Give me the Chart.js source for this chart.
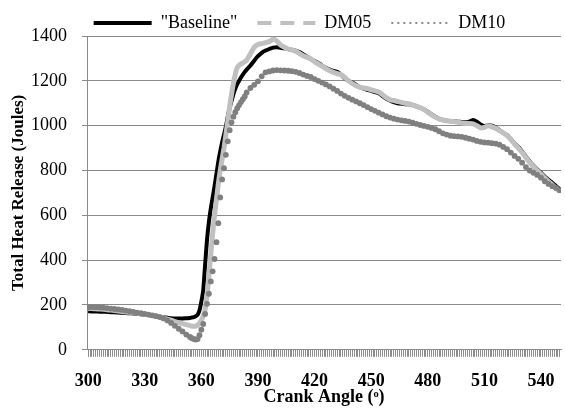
<!DOCTYPE html>
<html>
<head>
<meta charset="utf-8">
<script src="https://cdn.jsdelivr.net/npm/chart.js@4/dist/chart.umd.min.js"></script>
<style>
  body { margin: 0; background: #fff; }
  #wrap { width: 565px; height: 408px; }
</style>
</head>
<body>
<div id="wrap"><canvas id="heatChart"></canvas></div>
<script>
// Crank angle (degrees) - denser sampling through the ignition rise
const angles = [
  300, 302, 304, 306, 308, 310, 312, 314, 316, 318, 320, 322, 324, 326, 328, 330, 332, 334, 336, 338, 340, 342, 344, 346, 348, 350, 352,
  354, 355, 356, 357, 358, 359, 360, 361, 362, 363, 364, 365, 366, 367, 368, 369, 370, 371, 372, 373, 374, 375, 376, 377, 378, 379, 380, 381, 382, 383,
  384, 386, 388, 390, 392, 394, 396, 398, 400, 402, 404, 406, 408, 410, 412, 414, 416, 418, 420, 422, 424, 426, 428, 430, 432, 434, 436, 438, 440,
  442, 444, 446, 448, 450, 452, 454, 456, 458, 460, 462, 464, 466, 468, 470, 472, 474, 476, 478, 480, 482, 484, 486, 488, 490, 492, 494, 496, 498,
  500, 502, 504, 506, 508, 510, 512, 514, 516, 518, 520, 522, 524, 526, 528, 530, 532, 534, 536, 538, 540, 542, 544, 546, 548, 550
];

const baseline = [
  172, 171, 171, 170, 170, 169, 168, 167, 166, 165, 164, 163, 162, 160, 159, 157, 155, 153, 150, 147, 145, 143, 141, 140, 140, 140, 141,
  142, 144, 146, 150, 156, 175, 215, 265, 380, 490, 570, 630, 680, 730, 785, 840, 885, 925, 960, 995, 1040, 1080, 1110, 1140, 1165, 1185, 1200, 1215, 1228, 1240,
  1250, 1268, 1290, 1310, 1325, 1335, 1342, 1348, 1350, 1348, 1345, 1342, 1338, 1335, 1328, 1318, 1308, 1298, 1288, 1280, 1268, 1258, 1250, 1244, 1240, 1228, 1210, 1200, 1192,
  1182, 1172, 1165, 1160, 1155, 1150, 1145, 1132, 1120, 1112, 1105, 1100, 1098, 1096, 1095, 1092, 1086, 1080, 1072, 1062, 1050, 1040, 1030, 1025, 1022, 1020, 1019, 1018, 1016,
  1015, 1018, 1025, 1018, 1005, 998, 1002, 1000, 992, 980, 968, 958, 940, 920, 905, 885, 862, 840, 822, 805, 790, 772, 758, 745, 730, 715
];

const dm05 = [
  185, 184, 183, 182, 181, 179, 177, 175, 173, 171, 169, 167, 165, 163, 161, 159, 156, 153, 150, 146, 142, 137, 132, 126, 121, 117, 112,
  108, 106, 105, 106, 110, 118, 132, 150, 180, 240, 330, 425, 520, 600, 670, 740, 800, 850, 900, 960, 1020, 1085, 1140, 1190, 1230, 1258, 1270, 1275, 1280, 1285,
  1292, 1320, 1350, 1362, 1366, 1370, 1375, 1385, 1378, 1360, 1350, 1342, 1338, 1332, 1322, 1312, 1305, 1298, 1285, 1275, 1265, 1255, 1245, 1238, 1232, 1228, 1215, 1200, 1188,
  1178, 1172, 1168, 1165, 1160, 1155, 1150, 1138, 1125, 1115, 1112, 1108, 1104, 1100, 1098, 1092, 1086, 1080, 1072, 1060, 1048, 1038, 1030, 1025, 1022, 1020, 1018, 1015, 1012,
  1010, 1010, 1008, 1000, 990, 992, 1000, 995, 988, 978, 968, 955, 938, 918, 900, 880, 858, 836, 818, 800, 784, 766, 750, 736, 720, 705
];

const dm10 = [
  190, 190, 190, 189, 188, 186, 184, 182, 180, 178, 175, 172, 169, 166, 163, 160, 157, 154, 150, 146, 140, 131, 120, 107, 94, 82, 68,
  57, 52, 48, 46, 48, 65, 90, 115, 160, 205, 250, 305, 350, 405, 480, 565, 680, 760, 810, 870, 930, 980, 1015, 1040, 1060, 1078, 1092, 1105, 1118, 1130,
  1148, 1168, 1182, 1198, 1220, 1238, 1242, 1246, 1248, 1247, 1246, 1245, 1243, 1240, 1235, 1228, 1222, 1217, 1208, 1200, 1192, 1184, 1175, 1165, 1155, 1143, 1133, 1124, 1116,
  1108, 1100, 1092, 1083, 1074, 1066, 1058, 1050, 1042, 1036, 1031, 1027, 1024, 1021, 1018, 1013, 1008, 1003, 999, 995, 990, 984, 975, 966, 960, 955, 953, 952, 950,
  946, 942, 938, 932, 928, 925, 924, 922, 920, 915, 905, 895, 880, 865, 852, 835, 815, 800, 790, 780, 768, 752, 740, 730, 722, 712
];

const xLabelTicks = [300, 330, 360, 390, 420, 450, 480, 510, 540];
const yTicks = [0, 200, 400, 600, 800, 1000, 1200, 1400];

const FONT = '"Liberation Serif", "Times New Roman", serif';
const GRID = '#8a8a8a';

function toPoints(series) {
  return series.map((v, i) => ({ x: angles[i], y: v }));
}

// nudge the legend a little right of centre, like the original
const legendShift = {
  id: 'legendShift',
  afterLayout(chart) {
    if (chart.legend) chart.legend.left += 26;
  }
};

const ctx = document.getElementById('heatChart').getContext('2d');
const heatChart = new Chart(ctx, {
  type: 'line',
  data: {
    datasets: [
      {
        label: '"Baseline"',
        data: toPoints(baseline),
        borderColor: '#000000',
        borderWidth: 4,
        pointRadius: 0,
        tension: 0.2,
        order: 3
      },
      {
        label: 'DM05',
        data: toPoints(dm05),
        borderColor: '#c0c0c0',
        borderWidth: 5,
        pointRadius: 0,
        tension: 0.2,
        order: 2
      },
      {
        label: 'DM10',
        data: toPoints(dm10),
        showLine: false,
        pointRadius: 2.9,
        pointBorderWidth: 0,
        pointBackgroundColor: '#808080',
        borderColor: '#808080',
        order: 1
      }
    ]
  },
  plugins: [legendShift],
  options: {
    responsive: true,
    maintainAspectRatio: false,
    animation: false,
    layout: { padding: { top: -6, right: -3, left: 5, bottom: 0 } },
    plugins: {
      tooltip: { enabled: false },
      legend: {
        position: 'top',
        align: 'center',
        maxHeight: 42,
        labels: {
          usePointStyle: true,
          pointStyleWidth: 58,
          padding: 20,
          color: '#000',
          font: { family: FONT, size: 18 },
          generateLabels: function() {
            return [
              { text: '"Baseline"', pointStyle: 'line', strokeStyle: '#000', fillStyle: '#000', lineWidth: 4, lineDash: [], datasetIndex: 0 },
              { text: 'DM05', pointStyle: 'line', strokeStyle: '#c0c0c0', fillStyle: '#c0c0c0', lineWidth: 4, lineDash: [14, 9], datasetIndex: 1 },
              { text: 'DM10', pointStyle: 'line', strokeStyle: '#8a8a8a', fillStyle: '#8a8a8a', lineWidth: 2, lineDash: [2, 4], datasetIndex: 2 }
            ];
          }
        }
      }
    },
    scales: {
      x: {
        type: 'linear',
        min: 299.4,
        max: 550.6,
        afterBuildTicks: function(scale) {
          // one tick mark per degree, labels every 30
          const t = [];
          for (let a = 300; a <= 550; a++) t.push({ value: a });
          scale.ticks = t;
        },
        afterFit: function(scale) {
          scale.paddingRight = 0;
        },
        grid: {
          drawOnChartArea: false,
          color: '#8c8c8c',
          tickLength: 7,
          lineWidth: 1
        },
        border: { color: '#8c8c8c', width: 1 },
        ticks: {
          autoSkip: false,
          maxRotation: 0,
          minRotation: 0,
          padding: 14,
          color: '#000',
          font: { family: FONT, size: 18, weight: 'bold' },
          callback: function(v) {
            return xLabelTicks.includes(v) ? String(v) : '';
          }
        },
        title: {
          display: true,
          text: 'Crank Angle (ᵒ)',
          color: '#000',
          padding: { top: -20, bottom: 0 },
          font: { family: FONT, size: 18, weight: 'bold' }
        }
      },
      y: {
        min: 0,
        max: 1400,
        afterBuildTicks: function(scale) {
          scale.ticks = yTicks.map(v => ({ value: v }));
        },
        afterFit: function(scale) {
          scale.width = 82;
        },
        grid: {
          color: GRID,
          lineWidth: 1,
          tickLength: 5
        },
        border: { color: GRID, width: 1 },
        ticks: {
          padding: 15,
          color: '#000',
          font: { family: FONT, size: 18 },
          callback: function(v) { return String(v); }
        },
        title: {
          display: true,
          text: 'Total Heat Release (Joules)',
          color: '#000',
          padding: { top: 3, bottom: 0 },
          font: { family: FONT, size: 17, weight: 'bold' }
        }
      }
    }
  }
});
</script>
</body>
</html>
